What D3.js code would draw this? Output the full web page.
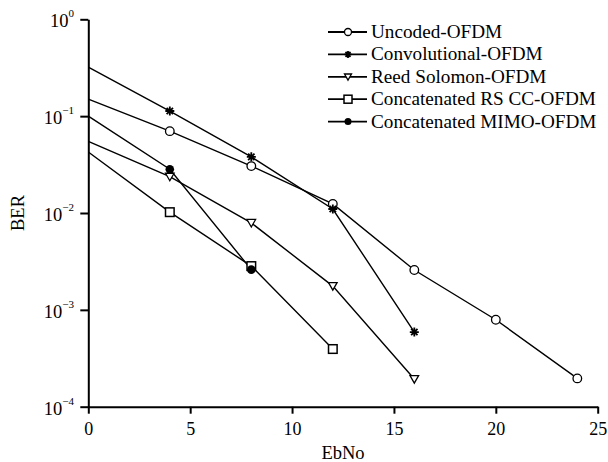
<!DOCTYPE html>
<html>
<head>
<meta charset="utf-8">
<script src="https://cdn.jsdelivr.net/npm/d3@7"></script>
<style>
  body { margin: 0; background: #fff; }
  text { font-family: "Liberation Serif", "Times New Roman", serif; fill: #000; }
</style>
</head>
<body>
<div id="chart"></div>
<script>
// EbNo values and BER per scheme
const ebno = [0, 4, 8, 12, 16, 20, 24];
const uncoded = [0.150, 0.070, 0.0305, 0.0124, 0.00258, 0.00079, 0.000196];
const convolutional = [0.32, 0.113, 0.038, 0.011, 0.00059];
const reedSolomon = [0.055, 0.0237, 0.0079, 0.00176, 0.000193];
const concatRSCC = [0.0427, 0.0102, 0.00283, 0.000394];
const concatMIMO = [0.1, 0.0283, 0.0026];

const names = ["Uncoded-OFDM", "Convolutional-OFDM", "Reed Solomon-OFDM",
               "Concatenated RS CC-OFDM", "Concatenated MIMO-OFDM"];
const symbols = ["circle", "star", "triangle", "square", "dot"];
const xTicks = [0, 5, 10, 15, 20, 25];
const yTicks = [1, 0.1, 0.01, 0.001, 0.0001];
const yExp = ["0", "\u22121", "\u22122", "\u22123", "\u22124"];

const series = [uncoded, convolutional, reedSolomon, concatRSCC, concatMIMO].map((vals, i) => ({
  name: names[i],
  sym: symbols[i],
  pts: vals.map((v, j) => ({x: ebno[j], y: v}))
}));

const W = 608, H = 462;
const margin = {top: 19.3, right: 10, bottom: 55, left: 88.3};

const svg = d3.select("#chart").append("svg")
  .attr("width", W).attr("height", H);

const x = d3.scaleLinear().domain([0, 25]).range([margin.left, 597.7]);
const y = d3.scaleLog().domain([1e-4, 1]).range([406.7, margin.top]);

// axes
const xAxis = svg.append("g")
  .attr("transform", `translate(0,${y(1e-4)})`)
  .call(d3.axisBottom(x).tickValues(xTicks).tickSize(7).tickSizeOuter(0).tickPadding(4));
xAxis.select(".domain").attr("stroke-width", 2);
xAxis.selectAll(".tick line").attr("stroke-width", 2);
xAxis.selectAll(".tick text")
  .style("font-family", "'Liberation Serif', 'Times New Roman', serif")
  .attr("font-size", 18).attr("dy", "0.95em");

const yAxis = svg.append("g")
  .attr("transform", `translate(${x(0)},0)`)
  .call(d3.axisLeft(y).tickValues(yTicks).tickFormat("").tickSize(8).tickSizeOuter(0));
yAxis.select(".domain").attr("stroke-width", 2);
yAxis.selectAll(".tick line").attr("stroke-width", 2);

const yl = svg.append("g").selectAll("text")
  .data(yTicks)
  .join("text")
  .attr("text-anchor", "end")
  .attr("x", 74)
  .attr("y", d => y(d) + 8);
yl.append("tspan").attr("font-size", 18.5).text("10");
yl.append("tspan").attr("font-size", 11).attr("dy", -10).text((d, i) => yExp[i]);

// axis titles
svg.append("text")
  .attr("x", 343).attr("y", 459)
  .attr("text-anchor", "middle").attr("font-size", 18.5)
  .text("EbNo");
svg.append("text")
  .attr("transform", "translate(24,213) rotate(-90)")
  .attr("text-anchor", "middle").attr("font-size", 18.5)
  .text("BER");

// lines
const line = d3.line().x(d => x(d.x)).y(d => y(d.y));
svg.append("g").selectAll("path")
  .data(series)
  .join("path")
  .attr("d", d => line(d.pts))
  .attr("fill", "none")
  .attr("stroke", "#000")
  .attr("stroke-width", 1.4);

// markers
function drawMarker(g, sym, s) {
  if (sym === "circle") {
    g.append("circle").attr("r", s).attr("fill", "#fff").attr("stroke", "#000").attr("stroke-width", 1.3);
  } else if (sym === "dot") {
    g.append("circle").attr("r", s).attr("fill", "#000");
  } else if (sym === "square") {
    g.append("rect").attr("x", -s).attr("y", -s).attr("width", 2 * s).attr("height", 2 * s)
      .attr("fill", "#fff").attr("stroke", "#000").attr("stroke-width", 1.5);
  } else if (sym === "triangle") {
    g.append("path").attr("d", `M${-s},${-s * 0.8}L${s},${-s * 0.8}L0,${s * 0.95}Z`)
      .attr("fill", "#fff").attr("stroke", "#000").attr("stroke-width", 1.3);
  } else if (sym === "star") {
    const r = s;
    let d = "";
    for (let k = 0; k < 4; k++) {
      const a = k * Math.PI / 4;
      d += `M${-r * Math.cos(a)},${-r * Math.sin(a)}L${r * Math.cos(a)},${r * Math.sin(a)}`;
    }
    g.append("path").attr("d", d).attr("stroke", "#000").attr("stroke-width", 1.8);
  }
}

series.forEach(sr => {
  sr.pts.filter(p => p.x > 0).forEach(p => {
    const g = svg.append("g").attr("transform", `translate(${x(p.x)},${y(p.y)})`);
    drawMarker(g, sr.sym, sr.sym === "star" ? 4.5 : 4.3);
  });
});

// legend
const legend = svg.append("g").attr("transform", "translate(328,32)");
series.forEach((sr, i) => {
  const g = legend.append("g").attr("transform", `translate(0,${i * 22.4})`);
  g.append("line").attr("x1", 0).attr("x2", 39).attr("stroke", "#000").attr("stroke-width", 1.8);
  const m = g.append("g").attr("transform", "translate(20,0)");
  drawMarker(m, sr.sym, sr.sym === "square" ? 4 : 3.5);
  g.append("text").attr("x", 43).attr("y", 6).attr("font-size", 19.2).text(sr.name);
});
</script>
</body>
</html>
